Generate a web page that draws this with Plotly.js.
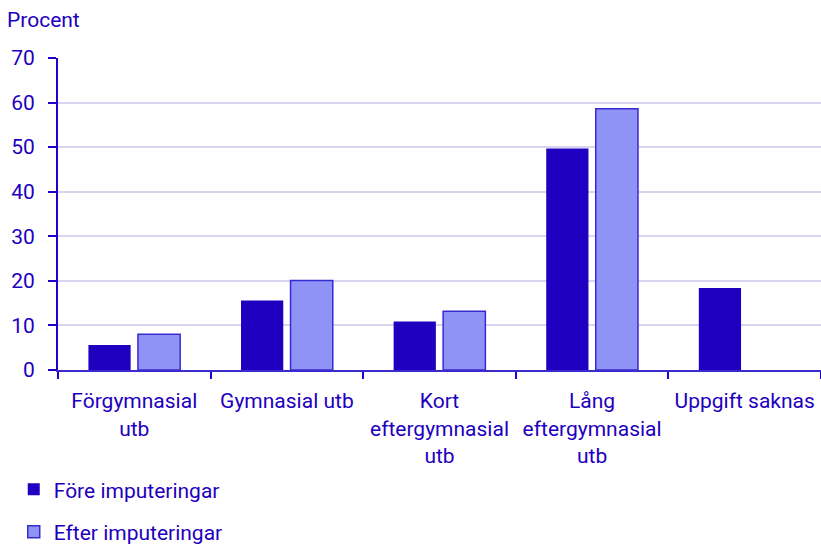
<!DOCTYPE html>
<html>
<head>
<meta charset="utf-8">
<script src="https://cdn.plot.ly/plotly-3.0.1.min.js"></script>
<style>html,body{margin:0;padding:0;background:#fff;}#chart{width:821px;height:545px;}</style>
</head>
<body>
<div id="chart"></div>
<script>
var categories = ["Förgymnasial<br>utb", "Gymnasial utb", "Kort<br>eftergymnasial<br>utb", "Lång<br>eftergymnasial<br>utb", "Uppgift saknas"];
var foreValues = [5.6, 15.6, 10.9, 49.7, 18.4];
var efterValues = [8.0, 20.1, 13.2, 58.6, null];
var seriesNames = ["Före imputeringar", "Efter imputeringar"];
var yTickVals = [0, 10, 20, 30, 40, 50, 60, 70];

var textColor = "#1e00be";
var fontFam = "Roboto, 'Noto Sans', sans-serif";
var fs = 21;

var data = [
  {type: "bar", name: seriesNames[0], x: categories, y: foreValues, legendgroup: "a",
   marker: {color: "#1f00c0", line: {color: "#1f00c0", width: 0}}, hoverinfo: "y"},
  {type: "bar", name: seriesNames[1], x: categories, y: efterValues, legendgroup: "b",
   marker: {color: "#8f93f5", line: {color: "#3a2bd0", width: 1.5}}, hoverinfo: "y"}
];

var layout = {
  width: 821, height: 545,
  margin: {l: 58, r: 0, t: 58, b: 175, autoexpand: false},
  paper_bgcolor: "#fff", plot_bgcolor: "#fff",
  font: {family: fontFam, size: fs, color: textColor},
  barmode: "group", bargap: 0.351, bargroupgap: 0.147,
  showlegend: true,
  legend: {orientation: "v", x: -0.058, xanchor: "left", y: -0.318, yanchor: "top",
           traceorder: "grouped", tracegroupgap: 12, font: {size: fs, color: textColor},
           bgcolor: "rgba(0,0,0,0)"},
  xaxis: {type: "category", tickson: "boundaries", ticks: "outside", ticklen: 7, tickwidth: 2,
          tickcolor: "#2200cc", showline: true, linecolor: "#3a2ccc", linewidth: 2,
          showgrid: false, tickfont: {size: fs, color: textColor}, ticklabelstandoff: 11,
          automargin: false},
  yaxis: {range: [0, 70], tickvals: yTickVals, ticks: "outside", ticklen: 8, tickwidth: 2,
          tickcolor: "#2200cc", showline: true, linecolor: "#2200cc", linewidth: 2,
          showgrid: true, gridcolor: "#d6d6f2", gridwidth: 2, zeroline: false,
          tickfont: {size: fs, color: textColor}, ticklabelstandoff: 9, automargin: false},
  annotations: [{text: "Procent", xref: "paper", yref: "paper", x: -0.069, y: 1.122,
                 xanchor: "left", yanchor: "middle", showarrow: false,
                 font: {size: fs, color: textColor}}]
};

Plotly.newPlot("chart", data, layout, {displayModeBar: false, staticPlot: true});
</script>
</body>
</html>
